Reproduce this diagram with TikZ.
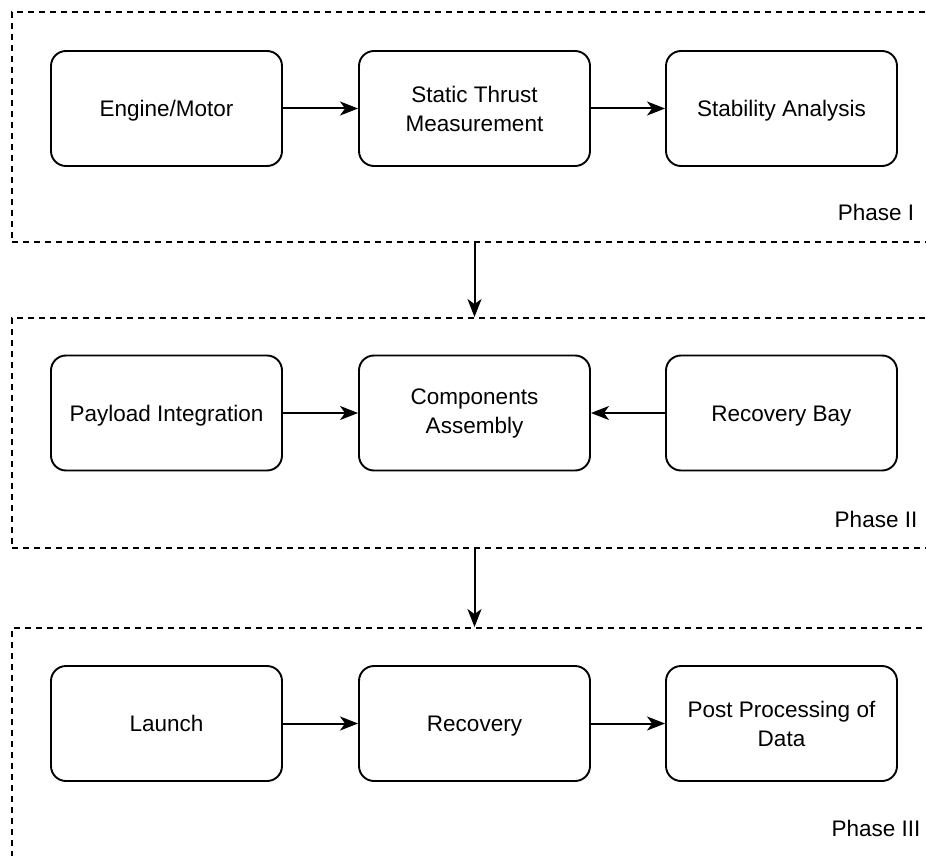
\documentclass[tikz,border=0pt]{standalone}
\usepackage{fontspec}
\setmainfont{Liberation Sans}
\usetikzlibrary{arrows.meta}
\begin{document}
\begin{tikzpicture}[x=1pt,y=-1pt,
  stepbox/.style={draw, line width=1.9pt, rounded corners=15pt,
    minimum width=231pt, minimum height=115pt, align=center,
    font=\fontsize{22.5}{29}\selectfont, inner sep=0pt},
  oneline/.style={stepbox, text height=18pt, text depth=2pt},
  phasebox/.style={draw, line width=1.9pt, dash pattern=on 6pt off 5pt,
    minimum width=930pt, minimum height=230pt, inner sep=0pt},
  phaselabel/.style={anchor=base, inner sep=0pt, font=\fontsize{22.5}{29}\selectfont},
  arr/.style={-{Stealth[length=18pt,width=14pt,inset=5pt]}, line width=2pt}]
\useasboundingbox (0,0) rectangle (926,856);
\clip (0,0) rectangle (926,856);
% phase frames (open to the right and bottom of the page)
\node[phasebox] (p1) at (477,127) {};
\node[phasebox] (p2) at (477,433) {};
\node[phasebox, minimum height=260pt] (p3) at (477,758) {};
\node[phaselabel] (l1) at (876,220) {Phase I};
\node[phaselabel] (l2) at (876,527) {Phase II};
\node[phaselabel] (l3) at (876,836) {Phase III};
% phase I
\node[oneline] (em) at (166.5,108.5) {Engine/Motor};
\node[stepbox] (st) at (474.5,108.5) {Static Thrust\\Measurement};
\node[oneline] (sa) at (781.5,108.5) {Stability Analysis};
% phase II
\node[oneline] (pi) at (166.5,413) {Payload Integration};
\node[stepbox] (ca) at (474.5,413) {Components\\Assembly};
\node[oneline] (rb) at (781.5,413) {Recovery Bay};
% phase III
\node[oneline] (la) at (166.5,723.5) {Launch};
\node[oneline] (re) at (474.5,723.5) {Recovery};
\node[stepbox] (pp) at (781.5,723.5) {Post Processing of\\Data};
% connectors
\draw[arr] (em) -- (st);
\draw[arr] (st) -- (sa);
\draw[arr] (pi) -- (ca);
\draw[arr] (rb) -- (ca);
\draw[arr] (la) -- (re);
\draw[arr] (re) -- (pp);
\draw[arr] (p1.south -| st) -- (p2.north -| st);
\draw[arr] (p2.south -| ca) -- (p3.north -| ca);
\end{tikzpicture}
\end{document}
